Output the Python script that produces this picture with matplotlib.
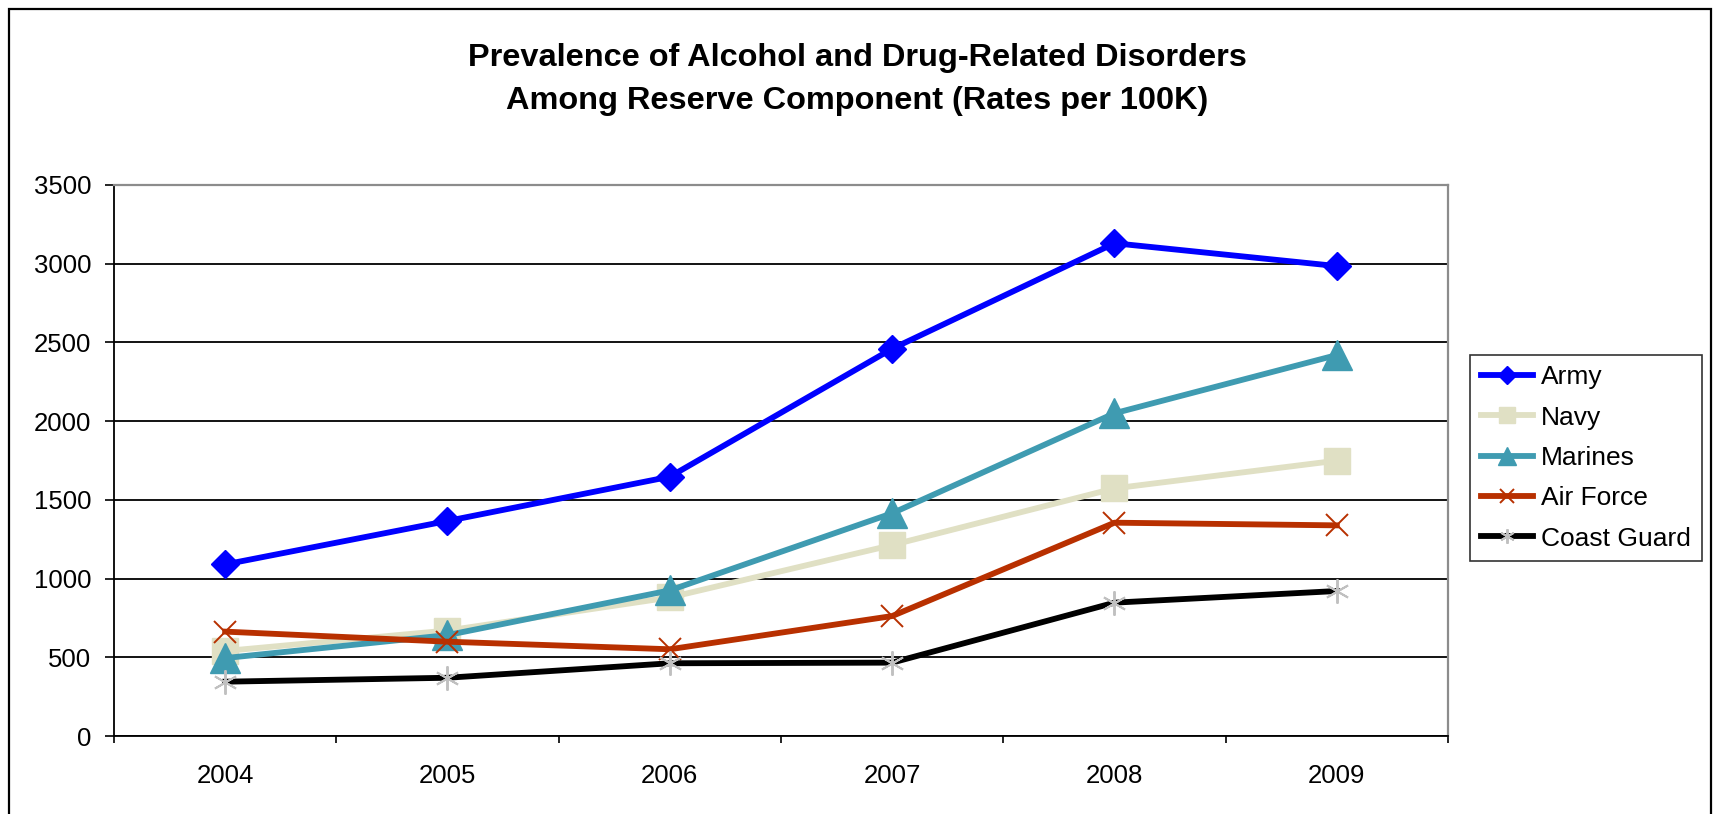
import numpy as np
import matplotlib
matplotlib.use("Agg")
import matplotlib.pyplot as plt
from matplotlib.patches import Rectangle

plt.rcParams['font.family'] = ['Liberation Sans', 'DejaVu Sans']

years = ['2004', '2005', '2006', '2007', '2008', '2009']
army = [1090, 1366, 1647, 2460, 3130, 2985]
navy = [540, 670, 880, 1213, 1573, 1749]
marines = [495, 641, 925, 1415, 2050, 2420]
air_force = [663, 599, 551, 762, 1355, 1338]
coast_guard = [345, 370, 462, 466, 847, 921]

title = 'Prevalence of Alcohol and Drug-Related Disorders\nAmong Reserve Component (Rates per 100K)'

fig = plt.figure(figsize=(17.15, 8.14), dpi=100)
ax = fig.add_axes([114/1715, 78/814, (1448-114)/1715, (736-185)/814])

x = np.arange(len(years))
lw = 4.2
ax.plot(x, army, color='#0000FF', lw=lw, marker='D', ms=14.5, label='Army', zorder=3)
ax.plot(x, navy, color='#E0E0C4', lw=lw, marker='s', ms=18.5, label='Navy', zorder=3)
ax.plot(x, marines, color='#3F9BB1', lw=lw, marker='^', ms=21, label='Marines', zorder=3)
ax.plot(x, air_force, color='#B83000', lw=lw, marker='x', ms=16.5, mew=1.4,
        label='Air Force', zorder=3)
ax.plot(x, coast_guard, color='black', lw=lw, marker=(6, 2, 0), ms=17.5, mew=1.4,
        mec='#C0C0C0', mfc='#C0C0C0', label='Coast Guard', zorder=3)

ax.set_xlim(-0.5, len(years) - 0.5)
ax.set_ylim(0, 3500)
ax.set_yticks(np.arange(0, 3501, 500))
ax.set_xticks(x)
ax.set_xticklabels(years)
ax.set_xticks(np.arange(-0.5, len(years), 1), minor=True)
ax.tick_params(axis='x', which='major', length=0, pad=20, labelsize=18.5)
ax.tick_params(axis='x', which='minor', length=5, width=1.2, direction='out')
ax.tick_params(axis='y', length=6.5, width=1.2, direction='out', pad=10, labelsize=18.5)

ax.yaxis.grid(True, color='black', lw=1.3, zorder=0)
ax.set_axisbelow(True)
for s in ['top', 'right']:
    ax.spines[s].set_color('#8C8C8C')
    ax.spines[s].set_linewidth(1.6)
for s in ['left', 'bottom']:
    ax.spines[s].set_color('black')
    ax.spines[s].set_linewidth(1.3)

fig.text(857/1715, 1 - 43/814, title, ha='center', va='top', fontsize=23.4,
         fontweight='bold', linespacing=1.55)

leg = fig.legend(loc='center left', bbox_to_anchor=(1470/1715, 1 - 458/814),
                 fontsize=19, frameon=True, fancybox=False, handlelength=2.0,
                 handletextpad=0.3, labelspacing=0.62, borderpad=0.4,
                 markerscale=0.6, borderaxespad=0)
leg.get_frame().set_edgecolor('black')
leg.get_frame().set_linewidth(1.2)

fig.patches.append(Rectangle((9/1715, -0.05), (1711-9)/1715, 1.05 - 9/814,
                             transform=fig.transFigure, fill=False,
                             edgecolor='black', lw=1.6))

fig.savefig('out.png', dpi=100, facecolor='white')
